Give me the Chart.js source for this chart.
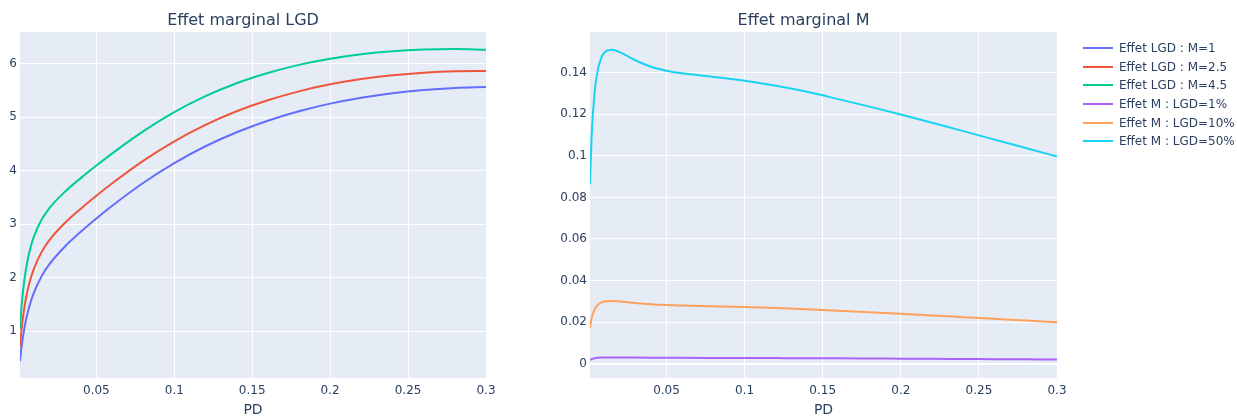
<!DOCTYPE html>
<html><head><meta charset="utf-8">
<script src="https://cdn.jsdelivr.net/npm/chart.js@4/dist/chart.umd.min.js"></script>
<style>
body{margin:0;background:#fff;width:1237px;height:419px;overflow:hidden;font-family:"DejaVu Sans",sans-serif;position:relative}
canvas{position:absolute;top:0}
#c1{left:0}
#c2{left:550px}
#legend{position:absolute;left:1083px;top:39px;font-size:12px;color:#2a3f5f;font-family:"DejaVu Sans",sans-serif}
.item{height:18.6px;display:flex;align-items:center;white-space:nowrap}
.swatch{width:30px;height:2px;margin-right:6px}
</style></head>
<body>
<canvas id="c1" width="520" height="419"></canvas>
<canvas id="c2" width="550" height="419"></canvas>
<div id="legend"></div>
<script>
// PD grid
const pd = [0.001,0.002,0.004,0.006,0.008,0.01,0.015,0.02,0.03,0.04,0.05,0.06,0.08,0.10,0.12,0.14,0.16,0.18,0.20,0.22,0.24,0.26,0.28,0.30];
// Effet marginal LGD
const lgdM1   = [0.440,0.707,1.085,1.354,1.560,1.726,2.033,2.256,2.588,2.859,3.107,3.340,3.768,4.140,4.455,4.717,4.933,5.110,5.252,5.363,5.447,5.506,5.544,5.562];
const lgdM25  = [0.699,1.034,1.477,1.778,2.000,2.175,2.486,2.706,3.026,3.288,3.530,3.759,4.182,4.548,4.856,5.110,5.315,5.481,5.612,5.711,5.782,5.830,5.856,5.861];
const lgdM45  = [1.044,1.470,2.001,2.343,2.587,2.773,3.090,3.305,3.609,3.860,4.094,4.318,4.734,5.093,5.391,5.633,5.824,5.976,6.091,6.174,6.230,6.261,6.271,6.260];
// Effet marginal M
const mLgd1   = [0.00172,0.00218,0.00262,0.00283,0.00293,0.00299,0.00302,0.00300,0.00292,0.00286,0.00282,0.00279,0.00276,0.00272,0.00267,0.00262,0.00255,0.00247,0.00240,0.00232,0.00224,0.00216,0.00208,0.00199];
const mLgd10  = [0.01725,0.02178,0.02618,0.02827,0.02934,0.02990,0.03021,0.02997,0.02919,0.02859,0.02819,0.02794,0.02760,0.02723,0.02674,0.02615,0.02547,0.02474,0.02397,0.02318,0.02237,0.02156,0.02075,0.01995];
const mLgd50  = [0.0862,0.1089,0.1309,0.1413,0.1467,0.1495,0.1510,0.1499,0.1460,0.1429,0.1410,0.1397,0.1380,0.1361,0.1337,0.1308,0.1273,0.1237,0.1199,0.1159,0.1119,0.1078,0.1038,0.0997];
// ticks
const xTicks = [0.05,0.1,0.15,0.2,0.25,0.3];
const yTicksLGD = [1,2,3,4,5,6];
const yTicksM = [0,0.02,0.04,0.06,0.08,0.1,0.12,0.14];
const names = ['Effet LGD : M=1','Effet LGD : M=2.5','Effet LGD : M=4.5','Effet M : LGD=1%','Effet M : LGD=10%','Effet M : LGD=50%'];

const colors = ['#636efa','#EF553B','#00cc96','#ab63fa','#FFA15A','#19d3f3'];
const txt = '#2a3f5f';
const FONT = 'DejaVu Sans';

function ds(i, arr){
  return {label:names[i], data:pd.map((x,k)=>({x:x,y:arr[k]})), borderColor:colors[i], backgroundColor:colors[i],
    borderWidth:2, pointRadius:0, cubicInterpolationMode:'monotone', fill:false};
}

const bgPlugin = {id:'bg', beforeDraw(chart){const {ctx, chartArea:a}=chart; ctx.save(); ctx.fillStyle='#E5ECF6'; ctx.fillRect(a.left,a.top,a.right-a.left,a.bottom-a.top); ctx.restore();}};

function makeChart(id, title, datasets, yMin, yMax, yTicks, yWidth, padRight){
  return new Chart(document.getElementById(id), {
    type:'line',
    data:{datasets:datasets},
    options:{
      responsive:false, animation:false, devicePixelRatio:1,
      layout:{padding:{left:0,right:padRight,top:0,bottom:0}},
      plugins:{
        legend:{display:false}, tooltip:{enabled:false},
        title:{display:true,text:title,color:txt,font:{family:FONT,size:16,weight:'normal'},padding:{top:11,bottom:1.8}}
      },
      scales:{
        x:{type:'linear',min:0.001,max:0.3,
          afterBuildTicks:s=>{s.ticks=xTicks.map(v=>({value:v}));},
          ticks:{color:txt,font:{family:FONT,size:12},padding:6,maxRotation:0,autoSkip:false,callback:v=>String(v)},
          grid:{color:'#ffffff',lineWidth:1,drawTicks:false},
          border:{display:false},
          title:{display:true,text:'PD',color:txt,font:{family:FONT,size:14},padding:{top:0,bottom:0}},
          afterFit:s=>{s.height=41;}
        },
        y:{type:'linear',min:yMin,max:yMax,
          afterBuildTicks:s=>{s.ticks=yTicks.map(v=>({value:v}));},
          ticks:{color:txt,font:{family:FONT,size:12},padding:3,autoSkip:false,callback:v=>String(v)},
          grid:{color:'#ffffff',lineWidth:c=>(c.tick&&c.tick.value===0)?2:1,drawTicks:false},
          border:{display:false},
          afterFit:s=>{s.width=yWidth;}
        }
      }
    },
    plugins:[bgPlugin]
  });
}

makeChart('c1','Effet marginal LGD',[ds(0,lgdM1),ds(1,lgdM25),ds(2,lgdM45)],0.125,6.59,yTicksLGD,20,34);
makeChart('c2','Effet marginal M',[ds(3,mLgd1),ds(4,mLgd10),ds(5,mLgd50)],-0.0069,0.1596,yTicksM,40,43);

const leg = document.getElementById('legend');
names.forEach((n,i)=>{
  const d=document.createElement('div'); d.className='item';
  const s=document.createElement('span'); s.className='swatch'; s.style.background=colors[i];
  const t=document.createElement('span'); t.textContent=n;
  d.appendChild(s); d.appendChild(t); leg.appendChild(d);
});
</script>
</body></html>
